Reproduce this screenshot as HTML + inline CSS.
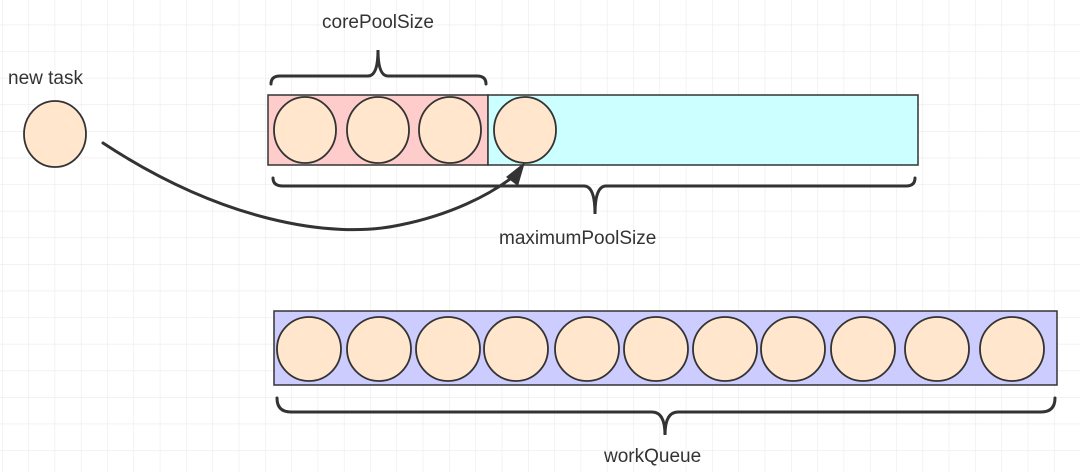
<!DOCTYPE html>
<html><head><meta charset="utf-8"><style>
html,body{margin:0;padding:0;background:#fff}
svg{display:block}
text{font-family:"Liberation Sans",sans-serif;fill:#333;font-size:19px}
</style></head><body>
<svg width="1080" height="472" viewBox="0 0 1080 472" xmlns="http://www.w3.org/2000/svg">
<defs>
<pattern id="g" x="2" y="-2" width="26.3" height="26.6" patternUnits="userSpaceOnUse">
<path d="M0 0H26.3M0 0V26.6" stroke="#ebebeb" stroke-width="1.2" fill="none"/>
</pattern>
</defs>
<rect width="1080" height="472" fill="url(#g)"/>
<g stroke="#333" stroke-width="1.5">
<rect x="268" y="95" width="220" height="70" fill="#ffcccc"/>
<rect x="488" y="95" width="430" height="70" fill="#ccffff"/>
<rect x="274" y="311" width="783" height="74" fill="#ccccff"/>
</g>
<g fill="#ffe6cc" stroke="#333" stroke-width="1.8">
<ellipse cx="55" cy="134" rx="31" ry="33"/>
<ellipse cx="305" cy="130" rx="31" ry="33"/>
<ellipse cx="378" cy="130" rx="31" ry="33"/>
<ellipse cx="450" cy="130" rx="31" ry="33"/>
<ellipse cx="525" cy="130" rx="31" ry="33"/>
<ellipse cx="309" cy="349" rx="32" ry="32"/>
<ellipse cx="379" cy="349" rx="32" ry="32"/>
<ellipse cx="448" cy="349" rx="32" ry="32"/>
<ellipse cx="516" cy="349" rx="32" ry="32"/>
<ellipse cx="587" cy="349" rx="32" ry="32"/>
<ellipse cx="656" cy="349" rx="32" ry="32"/>
<ellipse cx="725" cy="349" rx="32" ry="32"/>
<ellipse cx="793" cy="349" rx="32" ry="32"/>
<ellipse cx="863" cy="349" rx="32" ry="32"/>
<ellipse cx="937" cy="349" rx="32" ry="32"/>
<ellipse cx="1012" cy="349" rx="32" ry="32"/>
</g>
<g fill="none" stroke="#333" stroke-width="3" stroke-linecap="round">
<path d="M271 84 Q271 76 280 76 H368 Q378 76 378 50 Q378 76 388 76 H477 Q486 76 486 84"/>
<path d="M273 178 Q273 186 283 186 H584 Q595 186 595 214 Q595 186 606 186 H906 Q915 186 915 178"/>
<path d="M277 398 Q277 412 291 412 H652 Q665 412 665 435 Q665 412 678 412 H1041 Q1055 412 1055 398"/>
<path d="M103 143 C220 220 330 240 400 225 C450 215 490 195 514 176"/>
</g>
<polygon points="525,162 506,177 518,186" fill="#333"/>
<text x="8" y="84">new task</text>
<text x="378" y="28" text-anchor="middle">corePoolSize</text>
<text x="499" y="244">maximumPoolSize</text>
<text x="604" y="462">workQueue</text>
</svg>
</body></html>
